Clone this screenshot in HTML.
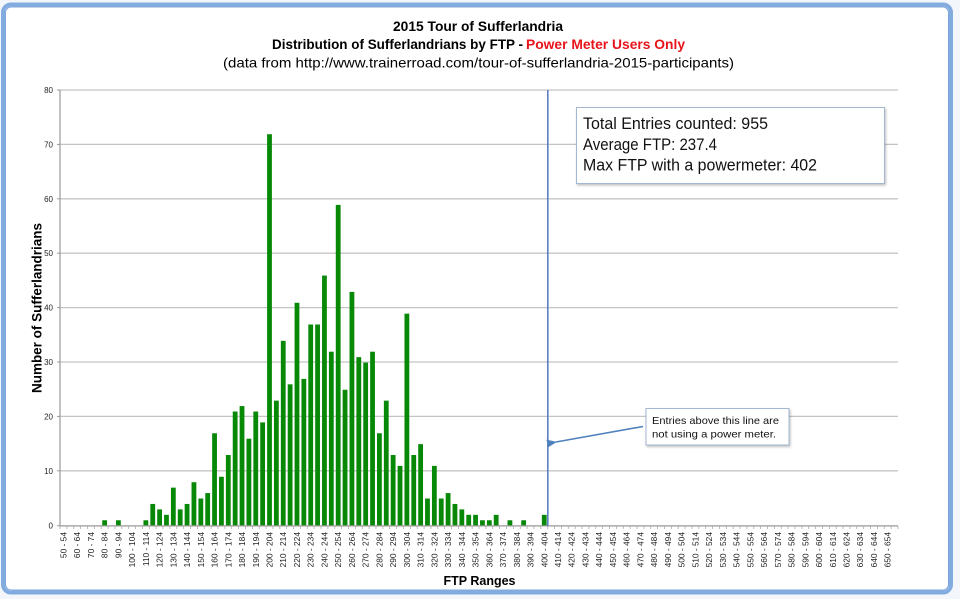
<!DOCTYPE html>
<html><head><meta charset="utf-8"><style>
html,body{margin:0;padding:0;background:#fff;}
svg{display:block;}
text{font-family:"Liberation Sans",sans-serif;}
</style></head><body>
<svg width="960" height="599" viewBox="0 0 960 599" xmlns="http://www.w3.org/2000/svg">
<defs>
<filter id="sh" x="-10%" y="-10%" width="120%" height="130%"><feDropShadow dx="1" dy="1.5" stdDeviation="1.2" flood-color="#000" flood-opacity="0.25"/></filter>
<marker id="ah" markerWidth="10" markerHeight="8" refX="1" refY="4" orient="auto" markerUnits="userSpaceOnUse"><path d="M10,0 L0,4 L10,8 Z" fill="#4f81bd"/></marker>
</defs>
<rect x="0" y="0" width="960" height="599" fill="#f3f6fb"/>
<rect x="3" y="4.5" width="948" height="588" rx="8" ry="8" fill="#fff" stroke="#82abdf" stroke-width="4"/>
<rect x="5.5" y="7" width="943" height="583" rx="6" ry="6" fill="none" stroke="#5c8fd0" stroke-width="0.8"/>

<!-- titles -->
<text x="478" y="31" font-size="14" font-weight="bold" text-anchor="middle" textLength="170" lengthAdjust="spacingAndGlyphs">2015 Tour of Sufferlandria</text>
<text x="272" y="49" font-size="14" font-weight="bold" textLength="251" lengthAdjust="spacingAndGlyphs">Distribution of Sufferlandrians by FTP -</text>
<text x="526" y="49" font-size="14" font-weight="bold" fill="#e8141b" textLength="159" lengthAdjust="spacingAndGlyphs">Power Meter Users Only</text>
<text x="223" y="67.5" font-size="14" textLength="511" lengthAdjust="spacingAndGlyphs">(data from http://www.trainerroad.com/tour-of-sufferlandria-2015-participants)</text>

<!-- gridlines -->
<g stroke="#c4c4c4" stroke-width="1.3">
<line x1="60" y1="90" x2="898" y2="90"/>
<line x1="60" y1="144.4" x2="898" y2="144.4"/>
<line x1="60" y1="198.8" x2="898" y2="198.8"/>
<line x1="60" y1="253.2" x2="898" y2="253.2"/>
<line x1="60" y1="307.6" x2="898" y2="307.6"/>
<line x1="60" y1="362" x2="898" y2="362"/>
<line x1="60" y1="416.4" x2="898" y2="416.4"/>
<line x1="60" y1="470.8" x2="898" y2="470.8"/>
</g>
<!-- y ticks -->
<g stroke="#999" stroke-width="1">
<line x1="57" y1="90" x2="60" y2="90"/><line x1="57" y1="144.4" x2="60" y2="144.4"/><line x1="57" y1="198.8" x2="60" y2="198.8"/><line x1="57" y1="253.2" x2="60" y2="253.2"/><line x1="57" y1="307.6" x2="60" y2="307.6"/><line x1="57" y1="362" x2="60" y2="362"/><line x1="57" y1="416.4" x2="60" y2="416.4"/><line x1="57" y1="470.8" x2="60" y2="470.8"/><line x1="57" y1="525.7" x2="60" y2="525.7"/>
</g>
<g font-size="8" text-anchor="end" fill="#222">
<text x="53" y="93">80</text><text x="53" y="147.4">70</text><text x="53" y="201.8">60</text><text x="53" y="256.2">50</text><text x="53" y="310.6">40</text><text x="53" y="365">30</text><text x="53" y="419.4">20</text><text x="53" y="473.8">10</text><text x="53" y="528.7">0</text>
</g>

<!-- bars -->
<g fill="#078807">
<rect x="102.24" y="520.26" width="4.8" height="5.44"/>
<rect x="115.98" y="520.26" width="4.8" height="5.44"/>
<rect x="143.46" y="520.26" width="4.8" height="5.44"/>
<rect x="150.33" y="503.95" width="4.8" height="21.75"/>
<rect x="157.20" y="509.39" width="4.8" height="16.31"/>
<rect x="164.07" y="514.82" width="4.8" height="10.88"/>
<rect x="170.93" y="487.64" width="4.8" height="38.06"/>
<rect x="177.80" y="509.39" width="4.8" height="16.31"/>
<rect x="184.67" y="503.95" width="4.8" height="21.75"/>
<rect x="191.54" y="482.2" width="4.8" height="43.5"/>
<rect x="198.41" y="498.51" width="4.8" height="27.19"/>
<rect x="205.28" y="493.07" width="4.8" height="32.63"/>
<rect x="212.15" y="433.26" width="4.8" height="92.44"/>
<rect x="219.02" y="476.76" width="4.8" height="48.94"/>
<rect x="225.89" y="455.01" width="4.8" height="70.69"/>
<rect x="232.76" y="411.51" width="4.8" height="114.19"/>
<rect x="239.62" y="406.07" width="4.8" height="119.63"/>
<rect x="246.49" y="438.7" width="4.8" height="87"/>
<rect x="253.36" y="411.51" width="4.8" height="114.19"/>
<rect x="260.23" y="422.39" width="4.8" height="103.31"/>
<rect x="267.10" y="134.2" width="4.8" height="391.5"/>
<rect x="273.97" y="400.64" width="4.8" height="125.06"/>
<rect x="280.84" y="340.82" width="4.8" height="184.88"/>
<rect x="287.71" y="384.32" width="4.8" height="141.38"/>
<rect x="294.58" y="302.76" width="4.8" height="222.94"/>
<rect x="301.45" y="378.89" width="4.8" height="146.81"/>
<rect x="308.31" y="324.51" width="4.8" height="201.19"/>
<rect x="315.18" y="324.51" width="4.8" height="201.19"/>
<rect x="322.05" y="275.57" width="4.8" height="250.13"/>
<rect x="328.92" y="351.7" width="4.8" height="174"/>
<rect x="335.79" y="204.89" width="4.8" height="320.81"/>
<rect x="342.66" y="389.76" width="4.8" height="135.94"/>
<rect x="349.53" y="291.89" width="4.8" height="233.81"/>
<rect x="356.40" y="357.14" width="4.8" height="168.56"/>
<rect x="363.27" y="362.57" width="4.8" height="163.13"/>
<rect x="370.14" y="351.7" width="4.8" height="174"/>
<rect x="377.00" y="433.26" width="4.8" height="92.44"/>
<rect x="383.87" y="400.64" width="4.8" height="125.06"/>
<rect x="390.74" y="455.01" width="4.8" height="70.69"/>
<rect x="397.61" y="465.89" width="4.8" height="59.81"/>
<rect x="404.48" y="313.64" width="4.8" height="212.06"/>
<rect x="411.35" y="455.01" width="4.8" height="70.69"/>
<rect x="418.22" y="444.14" width="4.8" height="81.56"/>
<rect x="425.09" y="498.51" width="4.8" height="27.19"/>
<rect x="431.96" y="465.89" width="4.8" height="59.81"/>
<rect x="438.83" y="498.51" width="4.8" height="27.19"/>
<rect x="445.70" y="493.07" width="4.8" height="32.63"/>
<rect x="452.56" y="503.95" width="4.8" height="21.75"/>
<rect x="459.43" y="509.39" width="4.8" height="16.31"/>
<rect x="466.30" y="514.82" width="4.8" height="10.88"/>
<rect x="473.17" y="514.82" width="4.8" height="10.88"/>
<rect x="480.04" y="520.26" width="4.8" height="5.44"/>
<rect x="486.91" y="520.26" width="4.8" height="5.44"/>
<rect x="493.78" y="514.82" width="4.8" height="10.88"/>
<rect x="507.52" y="520.26" width="4.8" height="5.44"/>
<rect x="521.25" y="520.26" width="4.8" height="5.44"/>
<rect x="541.86" y="514.82" width="4.8" height="10.88"/>
</g>

<!-- axes -->
<line x1="60" y1="90" x2="60" y2="526.2" stroke="#999" stroke-width="1.2"/>
<line x1="60" y1="525.9" x2="898" y2="525.9" stroke="#999" stroke-width="1.2"/>
<path stroke="#aaa" stroke-width="0.8" fill="none" d="M60,526v3M66.87,526v3M73.74,526v3M80.61,526v3M87.48,526v3M94.34,526v3M101.21,526v3M108.08,526v3M114.95,526v3M121.82,526v3M128.69,526v3M135.56,526v3M142.43,526v3M149.30,526v3M156.17,526v3M163.03,526v3M169.90,526v3M176.77,526v3M183.64,526v3M190.51,526v3M197.38,526v3M204.25,526v3M211.12,526v3M217.99,526v3M224.86,526v3M231.72,526v3M238.59,526v3M245.46,526v3M252.33,526v3M259.20,526v3M266.07,526v3M272.94,526v3M279.81,526v3M286.68,526v3M293.55,526v3M300.41,526v3M307.28,526v3M314.15,526v3M321.02,526v3M327.89,526v3M334.76,526v3M341.63,526v3M348.50,526v3M355.37,526v3M362.24,526v3M369.10,526v3M375.97,526v3M382.84,526v3M389.71,526v3M396.58,526v3M403.45,526v3M410.32,526v3M417.19,526v3M424.06,526v3M430.93,526v3M437.79,526v3M444.66,526v3M451.53,526v3M458.40,526v3M465.27,526v3M472.14,526v3M479.01,526v3M485.88,526v3M492.75,526v3M499.62,526v3M506.48,526v3M513.35,526v3M520.22,526v3M527.09,526v3M533.96,526v3M540.83,526v3M547.70,526v3M554.57,526v3M561.44,526v3M568.31,526v3M575.17,526v3M582.04,526v3M588.91,526v3M595.78,526v3M602.65,526v3M609.52,526v3M616.39,526v3M623.26,526v3M630.13,526v3M637.00,526v3M643.86,526v3M650.73,526v3M657.60,526v3M664.47,526v3M671.34,526v3M678.21,526v3M685.08,526v3M691.95,526v3M698.82,526v3M705.69,526v3M712.55,526v3M719.42,526v3M726.29,526v3M733.16,526v3M740.03,526v3M746.90,526v3M753.77,526v3M760.64,526v3M767.51,526v3M774.38,526v3M781.24,526v3M788.11,526v3M794.98,526v3M801.85,526v3M808.72,526v3M815.59,526v3M822.46,526v3M829.33,526v3M836.20,526v3M843.07,526v3M849.93,526v3M856.80,526v3M863.67,526v3M870.54,526v3M877.41,526v3M884.28,526v3M891.15,526v3M898,526v3"/>

<!-- x labels -->
<g font-size="8.4" text-anchor="end" fill="#222">
<text transform="translate(66.4,532) rotate(-90)">50 - 54</text>
<text transform="translate(80.2,532) rotate(-90)">60 - 64</text>
<text transform="translate(93.9,532) rotate(-90)">70 - 74</text>
<text transform="translate(107.6,532) rotate(-90)">80 - 84</text>
<text transform="translate(121.4,532) rotate(-90)">90 - 94</text>
<text transform="translate(135.1,532) rotate(-90)">100 - 104</text>
<text transform="translate(148.9,532) rotate(-90)">110 - 114</text>
<text transform="translate(162.6,532) rotate(-90)">120 - 124</text>
<text transform="translate(176.3,532) rotate(-90)">130 - 134</text>
<text transform="translate(190.1,532) rotate(-90)">140 - 144</text>
<text transform="translate(203.8,532) rotate(-90)">150 - 154</text>
<text transform="translate(217.6,532) rotate(-90)">160 - 164</text>
<text transform="translate(231.3,532) rotate(-90)">170 - 174</text>
<text transform="translate(245.0,532) rotate(-90)">180 - 184</text>
<text transform="translate(258.8,532) rotate(-90)">190 - 194</text>
<text transform="translate(272.5,532) rotate(-90)">200 - 204</text>
<text transform="translate(286.2,532) rotate(-90)">210 - 214</text>
<text transform="translate(300.0,532) rotate(-90)">220 - 224</text>
<text transform="translate(313.7,532) rotate(-90)">230 - 234</text>
<text transform="translate(327.5,532) rotate(-90)">240 - 244</text>
<text transform="translate(341.2,532) rotate(-90)">250 - 254</text>
<text transform="translate(354.9,532) rotate(-90)">260 - 264</text>
<text transform="translate(368.7,532) rotate(-90)">270 - 274</text>
<text transform="translate(382.4,532) rotate(-90)">280 - 284</text>
<text transform="translate(396.1,532) rotate(-90)">290 - 294</text>
<text transform="translate(409.9,532) rotate(-90)">300 - 304</text>
<text transform="translate(423.6,532) rotate(-90)">310 - 314</text>
<text transform="translate(437.4,532) rotate(-90)">320 - 324</text>
<text transform="translate(451.1,532) rotate(-90)">330 - 334</text>
<text transform="translate(464.8,532) rotate(-90)">340 - 344</text>
<text transform="translate(478.6,532) rotate(-90)">350 - 354</text>
<text transform="translate(492.3,532) rotate(-90)">360 - 364</text>
<text transform="translate(506.1,532) rotate(-90)">370 - 374</text>
<text transform="translate(519.8,532) rotate(-90)">380 - 384</text>
<text transform="translate(533.5,532) rotate(-90)">390 - 394</text>
<text transform="translate(547.3,532) rotate(-90)">400 - 404</text>
<text transform="translate(561.0,532) rotate(-90)">410 - 414</text>
<text transform="translate(574.7,532) rotate(-90)">420 - 424</text>
<text transform="translate(588.5,532) rotate(-90)">430 - 434</text>
<text transform="translate(602.2,532) rotate(-90)">440 - 444</text>
<text transform="translate(616.0,532) rotate(-90)">450 - 454</text>
<text transform="translate(629.7,532) rotate(-90)">460 - 464</text>
<text transform="translate(643.4,532) rotate(-90)">470 - 474</text>
<text transform="translate(657.2,532) rotate(-90)">480 - 484</text>
<text transform="translate(670.9,532) rotate(-90)">490 - 494</text>
<text transform="translate(684.6,532) rotate(-90)">500 - 504</text>
<text transform="translate(698.4,532) rotate(-90)">510 - 514</text>
<text transform="translate(712.1,532) rotate(-90)">520 - 524</text>
<text transform="translate(725.9,532) rotate(-90)">530 - 534</text>
<text transform="translate(739.6,532) rotate(-90)">540 - 544</text>
<text transform="translate(753.3,532) rotate(-90)">550 - 554</text>
<text transform="translate(767.1,532) rotate(-90)">560 - 564</text>
<text transform="translate(780.8,532) rotate(-90)">570 - 574</text>
<text transform="translate(794.5,532) rotate(-90)">580 - 584</text>
<text transform="translate(808.3,532) rotate(-90)">590 - 594</text>
<text transform="translate(822.0,532) rotate(-90)">600 - 604</text>
<text transform="translate(835.8,532) rotate(-90)">610 - 614</text>
<text transform="translate(849.5,532) rotate(-90)">620 - 624</text>
<text transform="translate(863.2,532) rotate(-90)">630 - 634</text>
<text transform="translate(877.0,532) rotate(-90)">640 - 644</text>
<text transform="translate(890.7,532) rotate(-90)">650 - 654</text>
</g>

<!-- axis titles -->
<text transform="translate(41.5,308) rotate(-90)" font-size="14" font-weight="bold" text-anchor="middle" textLength="170" lengthAdjust="spacingAndGlyphs">Number of Sufferlandrians</text>
<text x="443.5" y="585" font-size="13" font-weight="bold" textLength="72" lengthAdjust="spacingAndGlyphs">FTP Ranges</text>

<!-- vertical line -->
<line x1="547.8" y1="90" x2="547.8" y2="526" stroke="#5b7fc2" stroke-width="1.6"/>

<!-- info box -->
<rect x="576.5" y="107.5" width="308" height="76" fill="#fff" stroke="#a3b6d2" stroke-width="1" filter="url(#sh)"/>
<g font-size="16.5" fill="#111">
<text x="583" y="129" textLength="185" lengthAdjust="spacingAndGlyphs">Total Entries counted: 955</text>
<text x="583" y="150" textLength="134" lengthAdjust="spacingAndGlyphs">Average FTP: 237.4</text>
<text x="583" y="170.5" textLength="234" lengthAdjust="spacingAndGlyphs">Max FTP with a powermeter: 402</text>
</g>

<!-- note box -->
<rect x="646" y="408.5" width="143" height="36.5" fill="#fff" stroke="#a3b6d2" stroke-width="1" filter="url(#sh)"/>
<g font-size="10.5" fill="#111">
<text x="652" y="424" textLength="127" lengthAdjust="spacingAndGlyphs">Entries above this line are</text>
<text x="652" y="437.5" textLength="124" lengthAdjust="spacingAndGlyphs">not using a power meter.</text>
</g>
<line x1="643" y1="426.5" x2="556" y2="442" stroke="#4f81bd" stroke-width="1.6" marker-end="url(#ah)"/>
</svg>
</body></html>
